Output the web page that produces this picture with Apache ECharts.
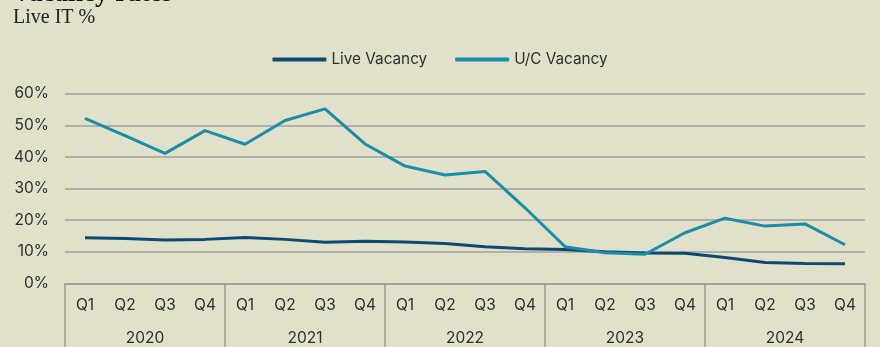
<!DOCTYPE html>
<html>
<head>
<meta charset="utf-8">
<script src="https://cdn.jsdelivr.net/npm/echarts@6/dist/echarts.min.js"></script>
<style>
  html, body { margin: 0; padding: 0; background: #e1e0c9; }
  #chart { width: 880px; height: 347px; }
</style>
</head>
<body>
<div id="chart"></div>
<script>
// Quarterly vacancy rates, 2020–2024 (percent)
const years = ['2020', '2021', '2022', '2023', '2024'];
const quarters = ['Q1', 'Q2', 'Q3', 'Q4'];
const liveVacancy = [14.4, 14.2, 13.7, 13.9, 14.5, 13.9, 13.0, 13.3, 13.1, 12.6, 11.6, 10.9, 10.7, 10.0, 9.6, 9.5, 8.2, 6.6, 6.3, 6.2];
const ucVacancy = [52.2, 46.7, 41.1, 48.3, 44.0, 51.5, 55.2, 44.1, 37.1, 34.3, 35.4, 23.9, 11.6, 9.7, 9.2, 16.0, 20.6, 18.1, 18.8, 12.2];
const yTicks = [0, 10, 20, 30, 40, 50, 60];

const quarterCats = [];
years.forEach(y => quarters.forEach(q => quarterCats.push(y + ' ' + q)));

const textColor = '#2f2f2f';
const sans = 'Inter, "Liberation Sans", sans-serif';

const chart = echarts.init(document.getElementById('chart'));
chart.setOption({
  backgroundColor: '#e1e0c9',
  animation: false,
  color: ['#0d4a73', '#1a8ea8'],
  graphic: [
    { type: 'text', left: 12, top: -19,
      style: { text: 'Vacancy rates', font: 'bold 27px "Liberation Serif", serif', fill: '#111' } },
    { type: 'text', left: 13, top: 8,
      style: { text: 'Live IT %', font: '20px "Liberation Serif", serif', fill: '#222' } }
  ],
  legend: {
    top: 47, left: 'center',
    icon: 'roundRect', itemWidth: 54, itemHeight: 4, itemGap: 28,
    textStyle: { fontFamily: sans, fontSize: 15.3, color: textColor },
    data: ['Live Vacancy', 'U/C Vacancy']
  },
  grid: { left: 65, right: 15, top: 93.7, bottom: 63.7 },
  xAxis: [
    {
      type: 'category', data: quarterCats, boundaryGap: true,
      axisLine: { show: true, lineStyle: { color: '#9a9a9a', width: 1.5 } },
      axisTick: { show: false },
      axisLabel: { margin: 14, fontFamily: sans, fontSize: 15.5, color: textColor,
        formatter: v => v.split(' ')[1] },
      splitLine: { show: false }
    },
    {
      type: 'category', data: years, position: 'bottom', boundaryGap: true,
      axisLine: { show: false },
      axisTick: { show: true, length: 64, lineStyle: { color: '#9a9a9a', width: 1.5 } },
      axisLabel: { margin: 47, fontFamily: sans, fontSize: 15.5, color: textColor },
      splitLine: { show: false }
    }
  ],
  yAxis: {
    type: 'value', min: yTicks[0], max: yTicks[yTicks.length - 1], interval: 10,
    axisLine: { show: false }, axisTick: { show: false },
    axisLabel: { margin: 16, fontFamily: sans, fontSize: 15.5, color: textColor, formatter: '{value}%' },
    splitLine: { lineStyle: { color: '#a0a0a0', width: 1.5 } }
  },
  series: [
    { name: 'Live Vacancy', type: 'line', data: liveVacancy, xAxisIndex: 0,
      symbol: 'none', lineStyle: { width: 3 } },
    { name: 'U/C Vacancy', type: 'line', data: ucVacancy, xAxisIndex: 0,
      symbol: 'none', lineStyle: { width: 3 } }
  ]
});
</script>
</body>
</html>
